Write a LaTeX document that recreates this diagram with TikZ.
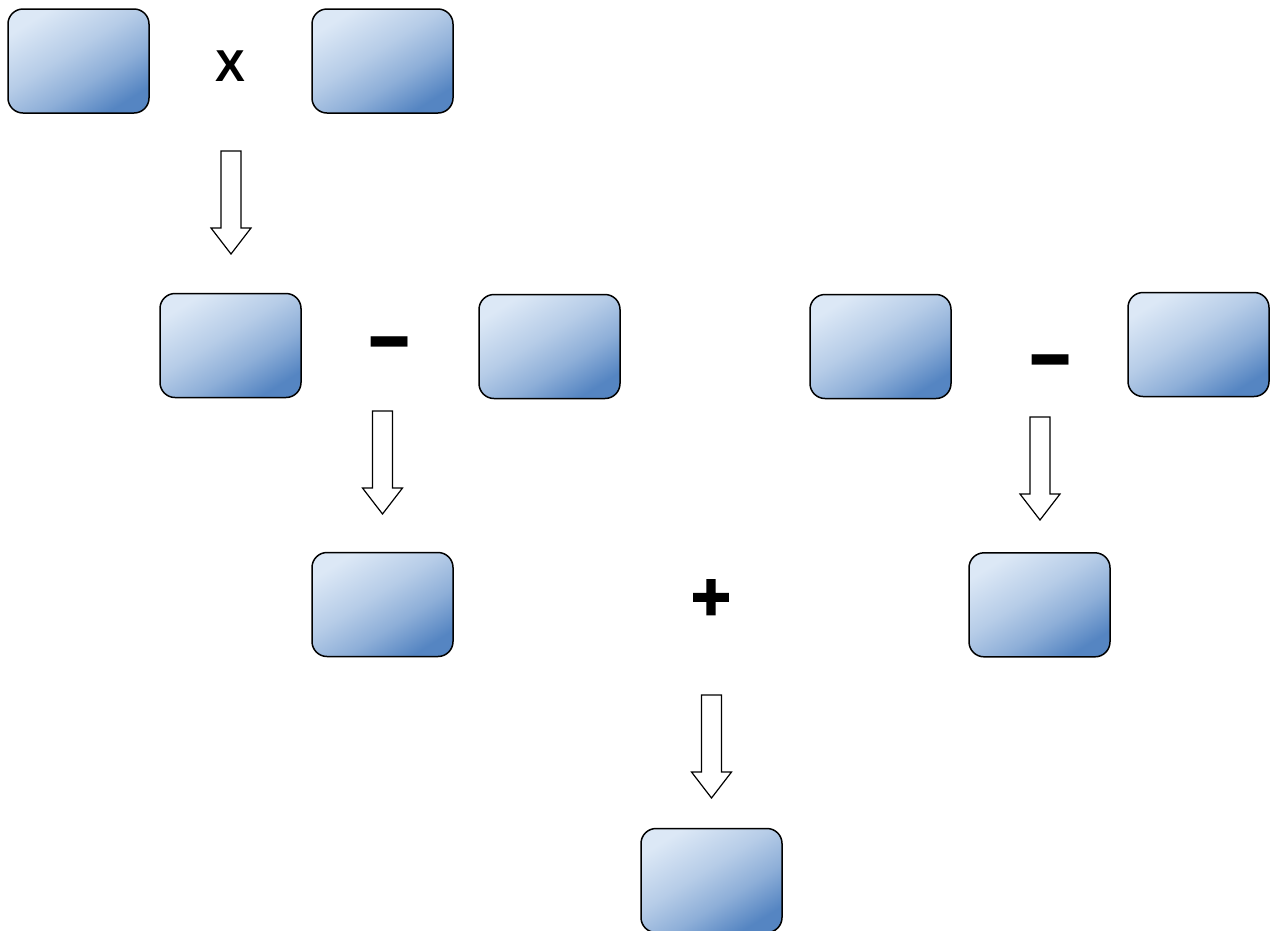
\documentclass[tikz,border=0pt]{standalone}
\usepackage{fontspec}
\setmainfont{Liberation Sans}
\newfontfamily\plusfont[FakeBold=2.5]{Liberation Sans Bold}
\definecolor{boxlight}{HTML}{DCE8F6}
\definecolor{boxdark}{HTML}{5585C2}
\colorlet{boxmidA}{boxlight!42!boxdark}
\colorlet{boxmidB}{boxlight!72!boxdark}
\pgfdeclareverticalshading{boxshade}{100bp}{color(0bp)=(boxdark); color(25bp)=(boxdark); color(40bp)=(boxmidA); color(55bp)=(boxmidB); color(75bp)=(boxlight); color(100bp)=(boxlight)}
\tikzset{
  gbox/.style={draw=black, line width=1.5pt, rounded corners=15pt,
    minimum width=141pt, minimum height=104pt, inner sep=0pt,
    shading=boxshade, shading angle=32},
  optext/.style={inner sep=0pt, font=\bfseries},
  blockarrow/.pic={
    \draw[line width=1.2pt, fill=white, line join=miter]
      (-10,0) -- (10,0) -- (10,77) -- (20,77) -- (0,103) -- (-20,77) -- (-10,77) -- cycle;
  }
}
\begin{document}
\begin{tikzpicture}[x=1pt,y=-1pt]
\useasboundingbox (0,0) rectangle (1274,930);
% boxes
\node[gbox] (b1) at (78.5,61) {};
\node[gbox] (b2) at (382.5,61) {};
\node[gbox] (b3) at (230.5,345.5) {};
\node[gbox] (b4) at (549.5,346.5) {};
\node[gbox] (b5) at (880.5,346.5) {};
\node[gbox] (b6) at (1198.5,344.5) {};
\node[gbox] (b7) at (382.5,604.5) {};
\node[gbox] (b8) at (1039.5,604.8) {};
\node[gbox] (b9) at (711.5,880.5) {};
% arrows
\pic (a1) at (231,151) {blockarrow};
\pic (a2) at (382.5,411) {blockarrow};
\pic (a3) at (711.5,695) {blockarrow};
\pic (a4) at (1040,417) {blockarrow};
% operators
\node[optext, font=\bfseries\fontsize{44.7}{50}\selectfont] (opx) at (230,66) {X};
\node[optext, font=\bfseries\fontsize{145}{150}\selectfont, anchor=base] (opm1) at (390,364.6) {\scalebox{1}[0.6]{-}};
\node[optext, font=\bfseries\fontsize{145}{150}\selectfont, anchor=base] (opm2) at (1051,382.6) {\scalebox{1}[0.6]{-}};
\node[optext, font=\plusfont\fontsize{68}{72}\selectfont] (opp) at (711,600) {+};
\end{tikzpicture}
\end{document}
